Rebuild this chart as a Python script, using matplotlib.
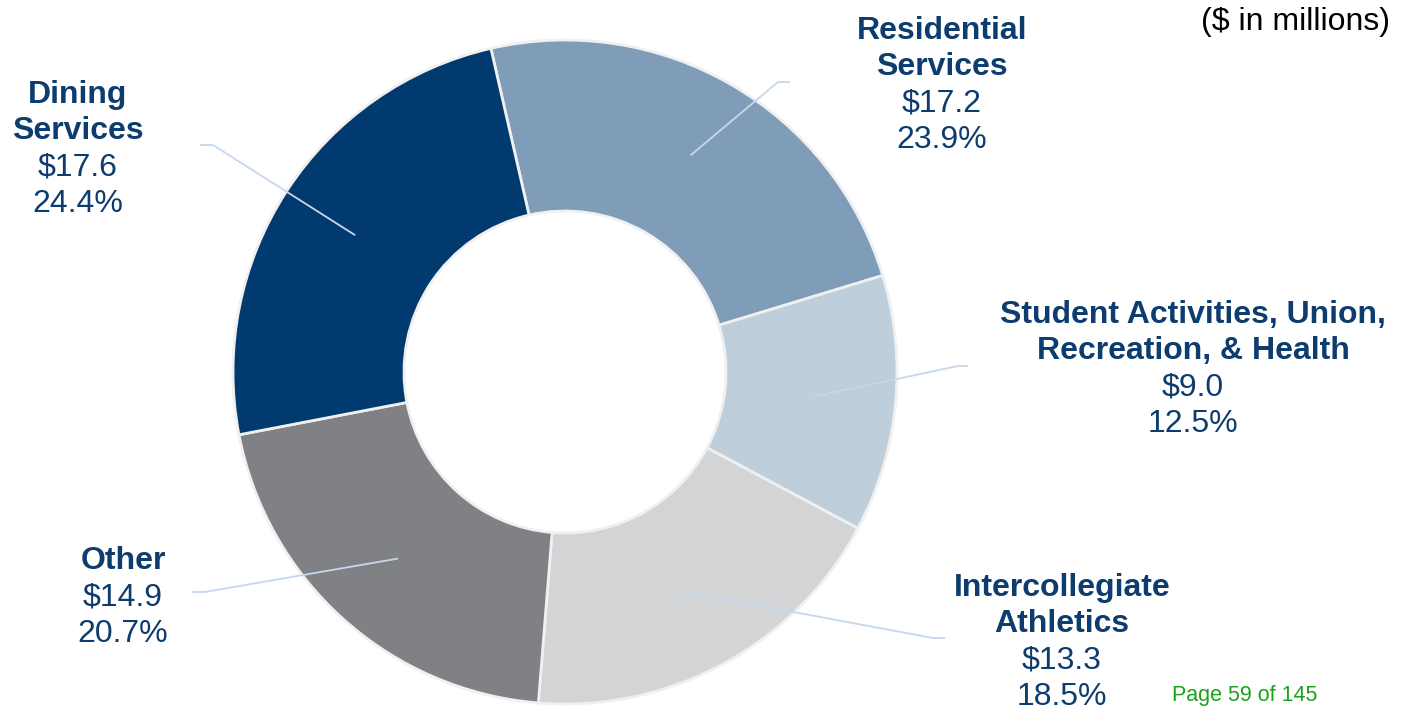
import numpy as np
import matplotlib
matplotlib.use("Agg")
import matplotlib.pyplot as plt

plt.rcParams["font.family"] = ["Liberation Sans", "DejaVu Sans"]

# --- data ($ in millions) ---
categories = ["Residential\nServices", "Student Activities, Union,\nRecreation, & Health",
              "Intercollegiate\nAthletics", "Other", "Dining\nServices"]
amounts = [17.2, 9.0, 13.3, 14.9, 17.6]
shares = [23.9, 12.5, 18.5, 20.7, 24.4]
colors = ["#7f9db8", "#bfcedb", "#d3d4d6", "#808184", "#003a6e"]

NAVY = "#0d3c6e"
LEADER = "#c6d7ee"

W, H = 1408, 710
fig = plt.figure(figsize=(W / 100, H / 100), dpi=100)
ax = fig.add_axes([0, 0, 1, 1])

cx, cy = 565, H - 372
r_out, r_in = 332, 161
start = 102.9

wedges, _ = ax.pie(amounts, colors=colors, startangle=start, counterclock=False,
                   center=(cx, cy), radius=r_out,
                   wedgeprops=dict(width=r_out - r_in, edgecolor="#f0f0f0", linewidth=2))
ax.set_xlim(0, W)
ax.set_ylim(0, H)
ax.set_aspect("equal")
ax.axis("off")

# label block layout: (center x, first line y in px from top, elbow x, elbow y, end x)
layout = [
    (942, 31, 778, 82, 790),
    (1193, 315, 958, 366, 968),
    (1062, 588, 933, 638, 945),
    (123, 561, 205, 592, 192),
    (78, 95, 213, 145, 200),
]
step = 36.3

for w, cat, amt, pct, (tx, ty, ex, ey, endx) in zip(wedges, categories, amounts, shares, layout):
    mid = np.deg2rad((w.theta1 + w.theta2) / 2)
    rm = (r_out + r_in) / 2 + 4
    px, py = cx + rm * np.cos(mid), cy + rm * np.sin(mid)
    ax.plot([px, ex, endx], [py, H - ey, H - ey], color=LEADER, lw=1.3,
            solid_capstyle="butt", zorder=3)
    y = ty
    for ln in cat.split("\n"):
        ax.text(tx, H - y, ln, ha="center", va="center", fontsize=23,
                fontweight="bold", color=NAVY)
        y += step
    for ln in (f"${amt:.1f}", f"{pct:.1f}%"):
        ax.text(tx, H - y, ln, ha="center", va="center", fontsize=23, color=NAVY)
        y += step

ax.text(1390, H - 22, "($ in millions)", ha="right", va="center", fontsize=23, color="black")
ax.text(1245, H - 695, "Page 59 of 145", ha="center", va="center", fontsize=15.5, color="#1aa31a")

fig.savefig("out.png", dpi=100)
